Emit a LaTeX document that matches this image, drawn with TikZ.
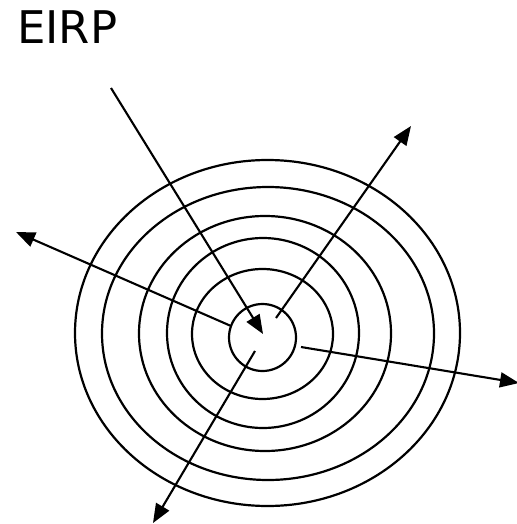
\documentclass[tikz,border=0pt]{standalone}
\usepackage{fontspec}
\setmainfont{DejaVu Sans}
\usetikzlibrary{arrows.meta,shapes.geometric}
\begin{document}
\begin{tikzpicture}[x=1pt,y=-1pt,
  ring/.style={draw=black,line width=2.2pt,ellipse,inner sep=0pt},
  ray/.style={draw=black,line width=2.1pt,-{Triangle[length=19pt,width=15pt]}},
  lbl/.style={inner sep=0pt,font=\fontsize{45}{54}\selectfont}]
\useasboundingbox (0,0) rectangle (516,524);
% rings
\node[ring,minimum width=385,minimum height=346] (r6) at (267.5,333) {};
\node[ring,minimum width=332,minimum height=293] (r5) at (268,333.5) {};
\node[ring,minimum width=252,minimum height=235] (r4) at (265,333.5) {};
\node[ring,minimum width=192,minimum height=190] (r3) at (263,333) {};
\node[ring,minimum width=141,minimum height=130] (r2) at (262.5,334) {};
\node[ring,minimum width=67,minimum height=67] (r1) at (262.5,337.5) {};
% title
\node[lbl,anchor=base west] (title) at (17,44) {EIRP};
% arrow ends
\coordinate (inS) at (111,88);
\coordinate (inE) at (263,334);
\coordinate (neS) at (276,318);
\coordinate (neE) at (411,126);
\coordinate (wS) at (231,326);
\coordinate (wE) at (16,232);
\coordinate (eS) at (301,347);
\coordinate (eE) at (519,383);
\coordinate (sS) at (255,351);
\coordinate (sE) at (153,523);
\draw[ray] (inS) -- (inE);
\draw[ray] (neS) -- (neE);
\draw[ray] (wS) -- (wE);
\draw[ray] (eS) -- (eE);
\draw[ray] (sS) -- (sE);
\end{tikzpicture}
\end{document}
